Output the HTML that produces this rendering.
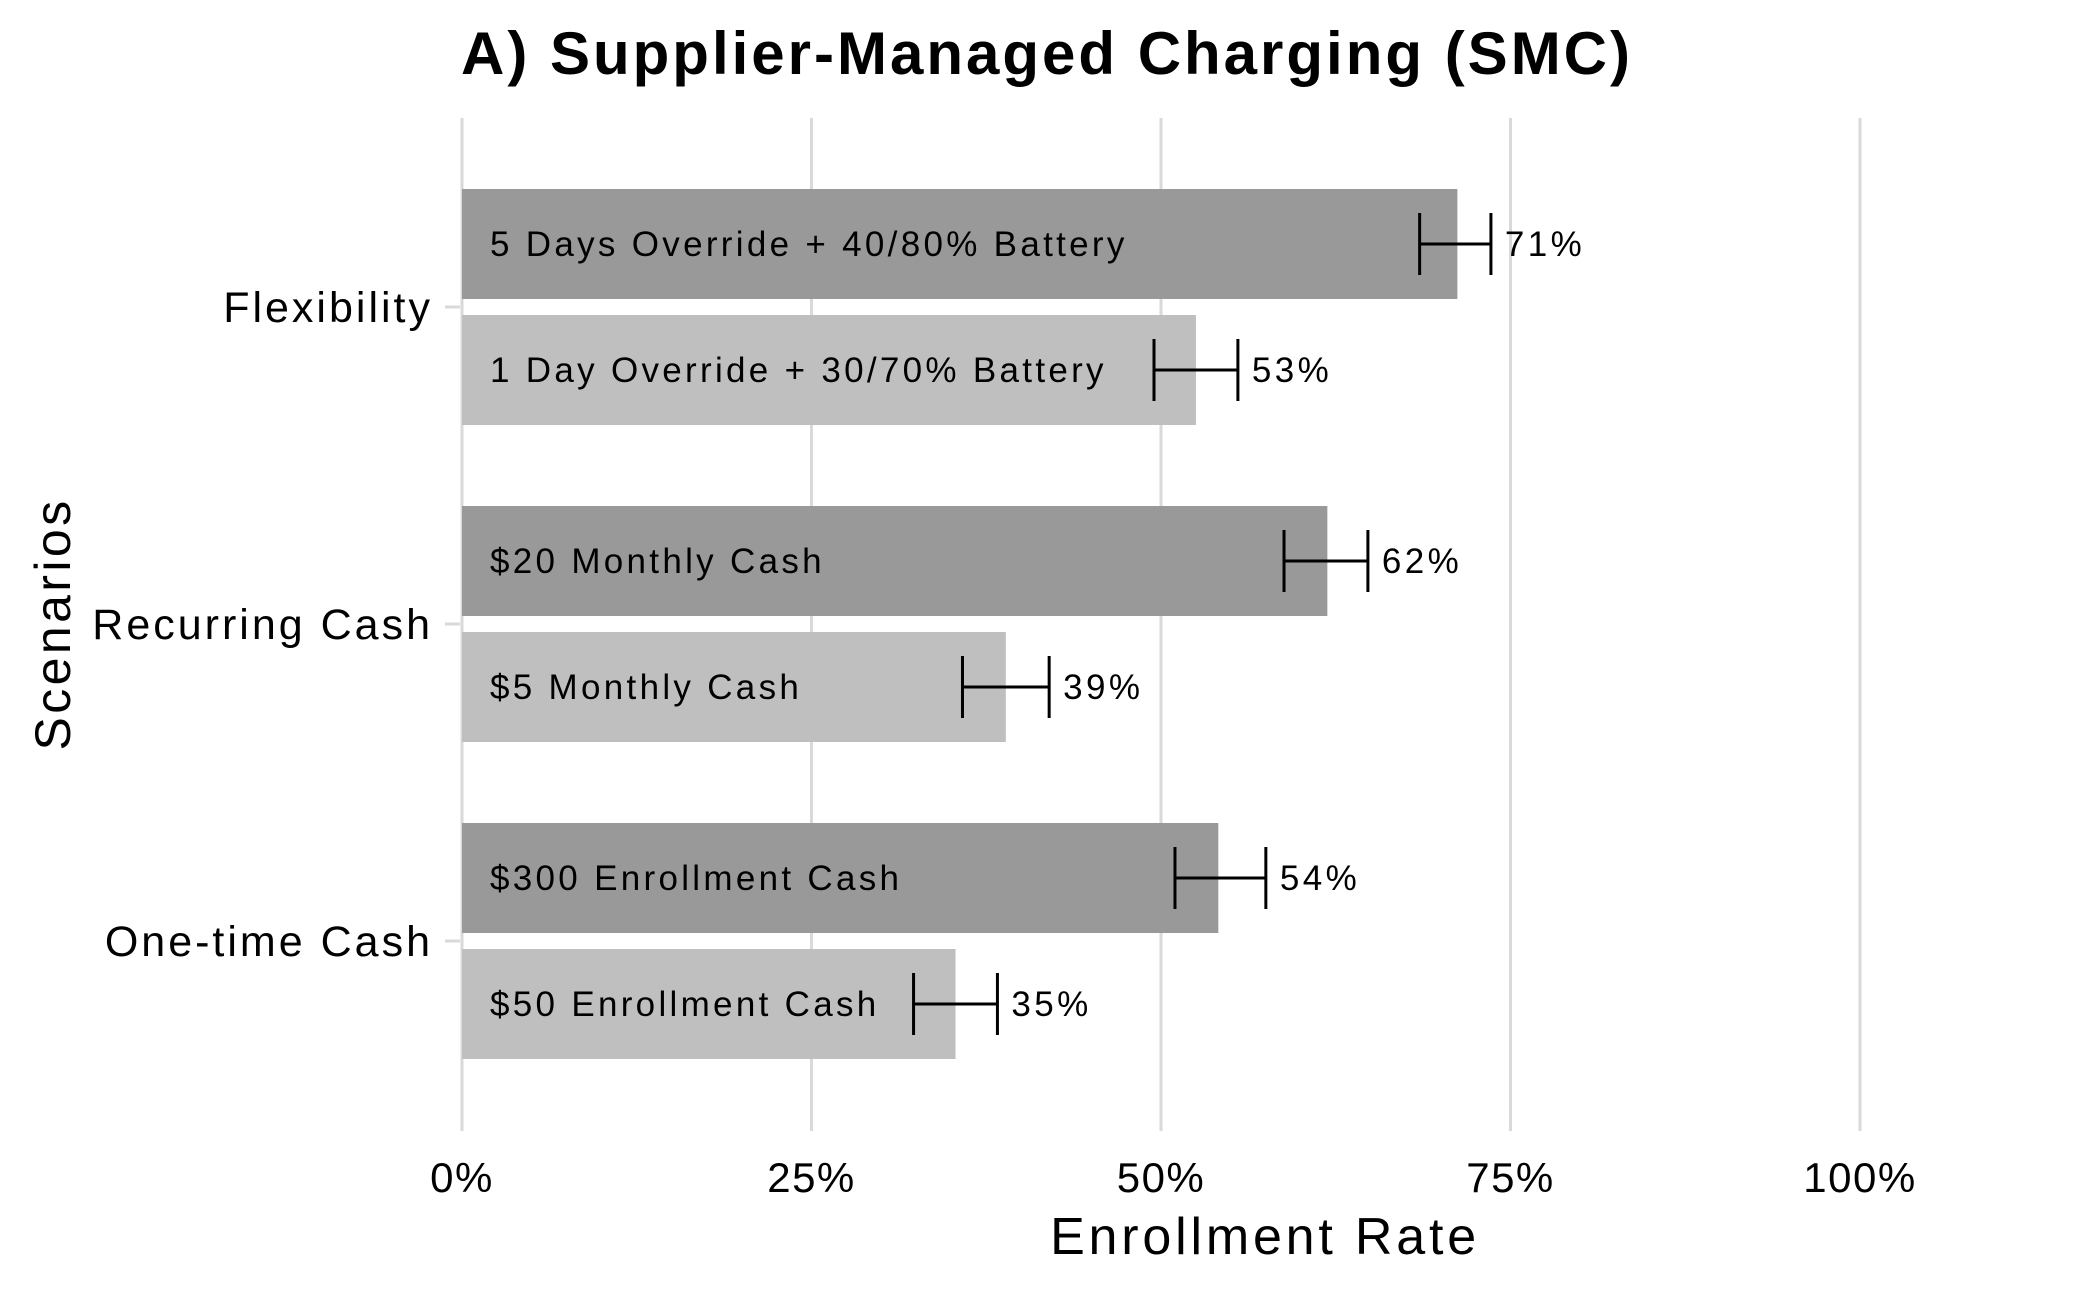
<!DOCTYPE html>
<html><head><meta charset="utf-8"><style>
html,body{margin:0;padding:0;background:#fff;}
svg{display:block;font-family:"Liberation Sans","DejaVu Sans",sans-serif;}
</style></head><body>
<svg id="chart" width="2100" height="1297" viewBox="0 0 2100 1297">
<text x="1047" y="74" text-anchor="middle" font-size="60" font-weight="bold" letter-spacing="3" fill="#000">A) Supplier-Managed Charging (SMC)</text>
<g id="grid"></g>
<g id="bars"></g>
<g id="yaxis"></g>
<g id="xaxis"></g>
<text x="1265" y="1254" text-anchor="middle" font-size="52" letter-spacing="3.8" fill="#000">Enrollment Rate</text>
<text transform="translate(70,624) rotate(-90)" text-anchor="middle" font-size="50" letter-spacing="3.4" fill="#000">Scenarios</text>
</svg>
<script>
const categories = ["Flexibility","Recurring Cash","One-time Cash"];
const highLabels = ["5 Days Override + 40/80% Battery","$20 Monthly Cash","$300 Enrollment Cash"];
const lowLabels = ["1 Day Override + 30/70% Battery","$5 Monthly Cash","$50 Enrollment Cash"];
const highValues = [71.2, 61.9, 54.1];
const lowValues = [52.5, 38.9, 35.3];
const highErrLo = [68.5, 58.8, 51.0];
const highErrHi = [73.6, 64.8, 57.5];
const lowErrLo = [49.5, 35.8, 32.3];
const lowErrHi = [55.5, 42.0, 38.3];
const xTicks = [0,25,50,75,100];

const NS="http://www.w3.org/2000/svg";
const x0=462, x1=1860;
function xs(v){return x0+(x1-x0)*v/100;}
function yc(i){return 307+i*317;}
function mk(tag,attrs,parent){const e=document.createElementNS(NS,tag);for(const k in attrs)e.setAttribute(k,attrs[k]);parent.appendChild(e);return e;}
const grid=document.getElementById('grid'),bars=document.getElementById('bars'),ya=document.getElementById('yaxis'),xa=document.getElementById('xaxis');
xTicks.forEach(t=>{
  const l=mk('line',{x1:xs(t),x2:xs(t),y1:118,y2:1131,stroke:'#d9d9d9','stroke-width':3},grid);
  
  
  const tx=mk('text',{x:xs(t),y:1192,'text-anchor':'middle','font-size':42,'letter-spacing':1.5,fill:'#000'},xa);
  tx.textContent=t+'%';
  
  
});
function drawBar(i,val,lo,hi,label,cy,color,kind){
  const r=mk('rect',{x:x0,y:cy-55,width:xs(val)-x0,height:110,fill:color},bars);
  
  
  const t=mk('text',{x:490,y:cy+12,'font-size':35,'letter-spacing':3.3,fill:'#000'},bars);
  t.textContent=label;
  
  
  const g=mk('g',{stroke:'#000','stroke-width':3},bars);
  
  
  mk('line',{x1:xs(lo),x2:xs(hi),y1:cy,y2:cy},g);
  mk('line',{x1:xs(lo),x2:xs(lo),y1:cy-31,y2:cy+31},g);
  mk('line',{x1:xs(hi),x2:xs(hi),y1:cy-31,y2:cy+31},g);
  const v=mk('text',{x:xs(hi)+14,y:cy+12,'font-size':35,'letter-spacing':3.4,fill:'#000'},bars);
  v.textContent=Math.round(val)+'%';
  
  
}
categories.forEach((c,i)=>{
  const cy=yc(i);
  drawBar(i,highValues[i],highErrLo[i],highErrHi[i],highLabels[i],cy-63,'#999999','high');
  drawBar(i,lowValues[i],lowErrLo[i],lowErrHi[i],lowLabels[i],cy+63,'#bfbfbf','low');
  const tk=mk('line',{x1:445,x2:460,y1:cy,y2:cy,stroke:'#d9d9d9','stroke-width':3},ya);
  
  
  const tl=mk('text',{x:433,y:cy+15,'text-anchor':'end','font-size':43,'letter-spacing':3,fill:'#000'},ya);
  tl.textContent=c;
  
  
});
</script>
</body></html>
